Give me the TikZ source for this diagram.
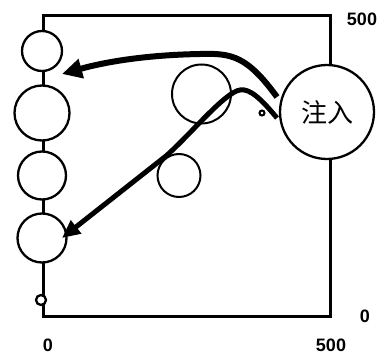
\documentclass[tikz,border=0pt]{standalone}
\usepackage{fontspec}
\setmainfont{Liberation Sans}
\newfontfamily\cjk{Noto Sans CJK SC}
\usetikzlibrary{arrows.meta}
\begin{document}
\begin{tikzpicture}[x=1pt, y=-1pt,
    ring/.style={draw, circle, line width=2.3pt, fill=white, inner sep=0pt, minimum size=#1},
    thinring/.style={draw, circle, line width=2pt, inner sep=0pt, minimum size=#1},
    axislabel/.style={font=\bfseries\fontsize{18}{18}\selectfont, inner sep=0pt}]
    \useasboundingbox (0,0) rectangle (381,361);

    % Cadre
    \draw[line width=3pt] (43,316) -- (43,16) -- (330,16) -- (330,316) -- cycle;

    % Chaine de gauche
    \node[ring=40pt] (c1) at (42,51) {};
    \node[ring=55pt] (c2) at (42,113) {};
    \node[ring=48pt] (c3) at (42,175.5) {};
    \node[ring=49pt] (c4) at (42,238) {};
    \node[ring=10pt] (s0) at (41,300) {};

    % Cercles du milieu
    \node[thinring=59pt] (m1) at (201.5,94) {};
    \node[thinring=43pt] (m2) at (179,175.5) {};
    \node[thinring=5pt] (pt) at (262,113) {};

    % Injection
    \node[ring=94pt] (inj) at (327,112) {\cjk\fontsize{26}{26}\selectfont 注入};

    % Fleches
    \coordinate (a1) at (277,97);
    \coordinate (t1) at (62,74);
    \draw[line width=6pt, -{Triangle[length=20pt,width=19pt]}]
        (a1) .. controls (247,56) and (232,53) .. (200,54)
             .. controls (145,55) and (105,62) .. (t1);
    \coordinate (a2) at (277,118);
    \coordinate (k2) at (166,156);
    \draw[line width=5pt, -{Triangle[length=18pt,width=16pt]}]
        (a2) .. controls (262,100) and (250,88) .. (240,90)
             .. controls (225,92) and (190,135) .. (k2) -- (62,238);

    % Graduations
    \node[axislabel] (y500) at (362,19) {500};
    \node[axislabel] (y0) at (365,316) {0};
    \node[axislabel] (x0) at (48,345) {0};
    \node[axislabel] (x500) at (331,345) {500};

\end{tikzpicture}
\end{document}
